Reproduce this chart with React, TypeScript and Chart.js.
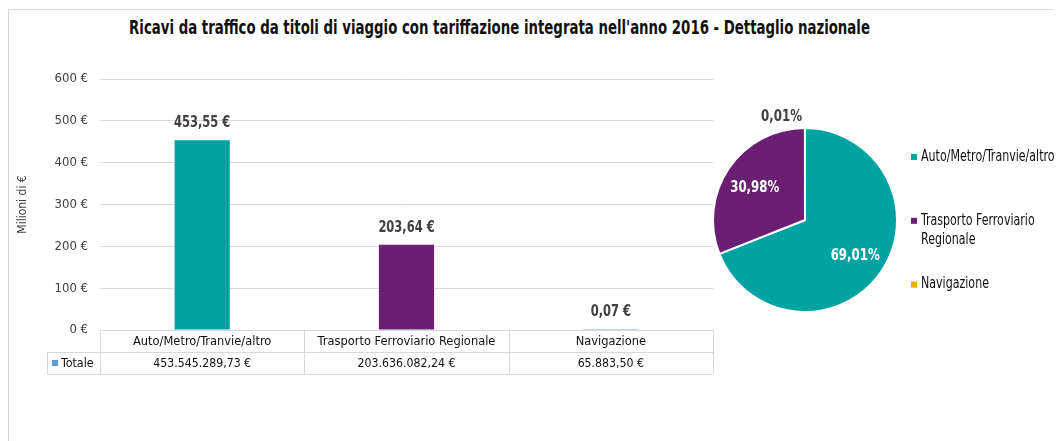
import React, { useEffect, useRef } from "react";
import { Chart, registerables } from "chart.js";

Chart.register(...registerables);

const TITLE =
  "Ricavi da traffico da titoli di viaggio con tariffazione integrata nell'anno 2016 - Dettaglio nazionale";
const AXIS_TITLE = "Milioni di €";
const CATEGORIES = ["Auto/Metro/Tranvie/altro", "Trasporto Ferroviario Regionale", "Navigazione"];
const LEGEND_LINES = [["Auto/Metro/Tranvie/altro"], ["Trasporto Ferroviario", "Regionale"], ["Navigazione"]];
const SERIES_NAME = "Totale";
const TOTALS_EUR = [453545289.73, 203636082.24, 65883.5];
const VALUES_MLN = [453.55, 203.64, 0.07];
const Y_MIN = 0;
const Y_MAX = 600;
const Y_STEP = 100;
const PIE_COLORS = ["#00A3A1", "#6B1F73", "#F0AB00"];
const BAR_COLORS = ["#00A3A1", "#6B1F73", "#7FA8D8"];
const SERIES_KEY_COLOR = "#5B9BD5";

const FONT = '"Liberation Sans Narrow", "DejaVu Sans Condensed", "Roboto", sans-serif';
const GRID = "#d9d9d9";
const TEXT_DARK = "#404040";

const fmt2 = (v: number) =>
  v.toLocaleString("it-IT", { minimumFractionDigits: 2, maximumFractionDigits: 2 });

function fillScaled(ctx: any, text: string, x: number, y: number, sx: number, align: string) {
  ctx.save();
  ctx.translate(x, y);
  ctx.scale(sx, 1);
  ctx.textAlign = align;
  ctx.fillText(text, 0, 0);
  ctx.restore();
}

const barLabelsPlugin = {
  id: "barLabels",
  afterDatasetsDraw(chart: any) {
    const { ctx } = chart;
    const meta = chart.getDatasetMeta(0);
    ctx.save();
    ctx.font = `bold 15px ${FONT}`;
    ctx.fillStyle = TEXT_DARK;
    ctx.textBaseline = "middle";
    meta.data.forEach((el: any, i: number) => {
      const v = chart.data.datasets[0].data[i];
      fillScaled(ctx, `${fmt2(v)} €`, el.x, el.y - 17, 0.85, "center");
    });
    ctx.restore();
  },
};

const tablePlugin = {
  id: "dataTable",
  afterDraw(chart: any) {
    const { ctx, chartArea } = chart;
    const n = chart.data.labels.length;
    const top = chartArea.bottom;
    const rowH = 22;
    const colW = (chartArea.right - chartArea.left) / n;
    const keyLeft = 39;
    ctx.save();
    ctx.strokeStyle = GRID;
    ctx.lineWidth = 1;
    ctx.beginPath();
    ctx.moveTo(chartArea.left, top + 0.5);
    ctx.lineTo(chartArea.right, top + 0.5);
    ctx.moveTo(keyLeft, top + rowH + 0.5);
    ctx.lineTo(chartArea.right, top + rowH + 0.5);
    ctx.moveTo(keyLeft, top + 2 * rowH + 0.5);
    ctx.lineTo(chartArea.right, top + 2 * rowH + 0.5);
    for (let i = 0; i <= n; i++) {
      const x = Math.round(chartArea.left + i * colW) + 0.5;
      ctx.moveTo(x, top);
      ctx.lineTo(x, top + 2 * rowH);
    }
    ctx.moveTo(keyLeft + 0.5, top + rowH);
    ctx.lineTo(keyLeft + 0.5, top + 2 * rowH);
    ctx.stroke();

    ctx.font = `13px ${FONT}`;
    ctx.fillStyle = "#111";
    ctx.textBaseline = "middle";
    chart.data.labels.forEach((lab: string, i: number) => {
      const cx = chartArea.left + (i + 0.5) * colW;
      fillScaled(ctx, lab, cx, top + rowH / 2 + 1, 0.98, "center");
      fillScaled(ctx, `${fmt2(TOTALS_EUR[i])} €`, cx, top + rowH * 1.5 + 1, 0.94, "center");
    });
    ctx.fillStyle = SERIES_KEY_COLOR;
    ctx.fillRect(keyLeft + 5, top + rowH * 1.5 - 3, 6, 6);
    ctx.fillStyle = "#111";
    fillScaled(ctx, SERIES_NAME, keyLeft + 14, top + rowH * 1.5 + 1, 0.95, "left");
    ctx.restore();
  },
};

const pieLabelsPlugin = {
  id: "pieLabels",
  afterDatasetsDraw(chart: any) {
    const { ctx } = chart;
    const meta = chart.getDatasetMeta(0);
    const data = chart.data.datasets[0].data as number[];
    const total = data.reduce((a, b) => a + b, 0);
    ctx.save();
    ctx.font = `bold 16px ${FONT}`;
    ctx.textBaseline = "middle";
    meta.data.forEach((el: any, i: number) => {
      const pct = (data[i] / total) * 100;
      const txt = `${fmt2(pct)}%`;
      const mid = (el.startAngle + el.endAngle) / 2;
      const r = el.outerRadius;
      if (pct < 2) {
        ctx.fillStyle = TEXT_DARK;
        const ax = el.x + Math.cos(mid) * (r + 11);
        const ay = el.y + Math.sin(mid) * (r + 11);
        fillScaled(ctx, txt, ax - 3, ay, 0.82, "right");
      } else {
        ctx.fillStyle = "#ffffff";
        fillScaled(
          ctx,
          txt,
          el.x + Math.cos(mid) * r * 0.66,
          el.y + Math.sin(mid) * r * 0.66 + 2,
          0.82,
          "center"
        );
      }
    });
    ctx.restore();
  },
};

const pieLegendPlugin = {
  id: "pieLegend",
  afterDraw(chart: any) {
    const { ctx } = chart;
    const colors = chart.data.datasets[0].backgroundColor as string[];
    const x0 = 211;
    const y0 = 97;
    const itemStep = 63.8;
    const lineH = 19;
    ctx.save();
    ctx.font = `15px ${FONT}`;
    ctx.textBaseline = "middle";
    LEGEND_LINES.forEach((lines, i) => {
      const y = y0 + i * itemStep;
      ctx.fillStyle = colors[i];
      ctx.fillRect(x0, y - 3, 6, 6);
      ctx.fillStyle = "#111";
      lines.forEach((ln, j) => fillScaled(ctx, ln, x0 + 10, y + j * lineH, 0.82, "left"));
    });
    ctx.restore();
  },
};

export default function App() {
  const barRef = useRef<HTMLCanvasElement>(null);
  const pieRef = useRef<HTMLCanvasElement>(null);

  useEffect(() => {
    const bar = new Chart(barRef.current as HTMLCanvasElement, {
      type: "bar",
      data: {
        labels: CATEGORIES,
        datasets: [
          {
            label: SERIES_NAME,
            data: VALUES_MLN,
            backgroundColor: BAR_COLORS,
            barPercentage: 0.27,
            categoryPercentage: 1,
            minBarLength: 1,
          },
        ],
      },
      options: {
        animation: false,
        responsive: false,
        maintainAspectRatio: false,
        layout: { padding: { top: 71, left: 0, right: 15, bottom: 0 } },
        plugins: {
          legend: { display: false },
          tooltip: { enabled: false },
          title: { display: false },
        },
        scales: {
          x: {
            grid: { display: false },
            border: { display: false },
            ticks: { display: false },
            afterFit: (s: any) => {
              s.height = 78;
              s.paddingLeft = 0;
              s.paddingRight = 0;
            },
          },
          y: {
            min: Y_MIN,
            max: Y_MAX,
            ticks: {
              stepSize: Y_STEP,
              padding: 12,
              color: TEXT_DARK,
              font: { family: FONT, size: 13 },
              callback: (v: any) => `${v} €`,
            },
            grid: { color: GRID, drawTicks: false },
            border: { display: false },
            title: {
              display: true,
              text: AXIS_TITLE,
              padding: { top: 8, bottom: 0 },
              color: TEXT_DARK,
              font: { family: FONT, size: 12 },
            },
            afterFit: (s: any) => {
              s.width = 92;
              s.paddingTop = 0;
              s.paddingBottom = 0;
            },
          },
        },
      } as any,
      plugins: [barLabelsPlugin, tablePlugin],
    });

    const pie = new Chart(pieRef.current as HTMLCanvasElement, {
      type: "pie",
      data: {
        labels: CATEGORIES,
        datasets: [
          {
            data: TOTALS_EUR,
            backgroundColor: PIE_COLORS,
            borderColor: "#ffffff",
            borderWidth: 2,
          },
        ],
      },
      options: {
        animation: false,
        responsive: false,
        maintainAspectRatio: false,
        layout: { padding: { left: 12, top: 67, right: 164, bottom: 67 } },
        plugins: {
          legend: { display: false },
          tooltip: { enabled: false },
        },
      } as any,
      plugins: [pieLabelsPlugin, pieLegendPlugin],
    });

    return () => {
      bar.destroy();
      pie.destroy();
    };
  }, []);

  return (
    <div style={{ position: "relative", width: 1054, height: 433, overflow: "hidden" }}>
      <div
        style={{
          position: "absolute",
          left: 0,
          top: 1,
          width: 1100,
          height: 500,
          borderTop: `1px solid ${GRID}`,
          borderLeft: `1px solid ${GRID}`,
        }}
      />
      <div
        style={{
          position: "absolute",
          left: -200,
          top: 8,
          width: 1383,
          textAlign: "center",
          fontFamily: FONT,
          fontWeight: "bold",
          fontSize: 20,
          lineHeight: "22px",
          color: "#111",
          whiteSpace: "nowrap",
          transform: "scaleX(0.74)",
          transformOrigin: "50% 50%",
        }}
      >
        {TITLE}
      </div>
      <canvas
        ref={barRef}
        width={720}
        height={400}
        style={{ position: "absolute", left: 0, top: 0, width: 720, height: 400 }}
      />
      <canvas
        ref={pieRef}
        width={362}
        height={320}
        style={{ position: "absolute", left: 692, top: 52, width: 362, height: 320 }}
      />
    </div>
  );
}
